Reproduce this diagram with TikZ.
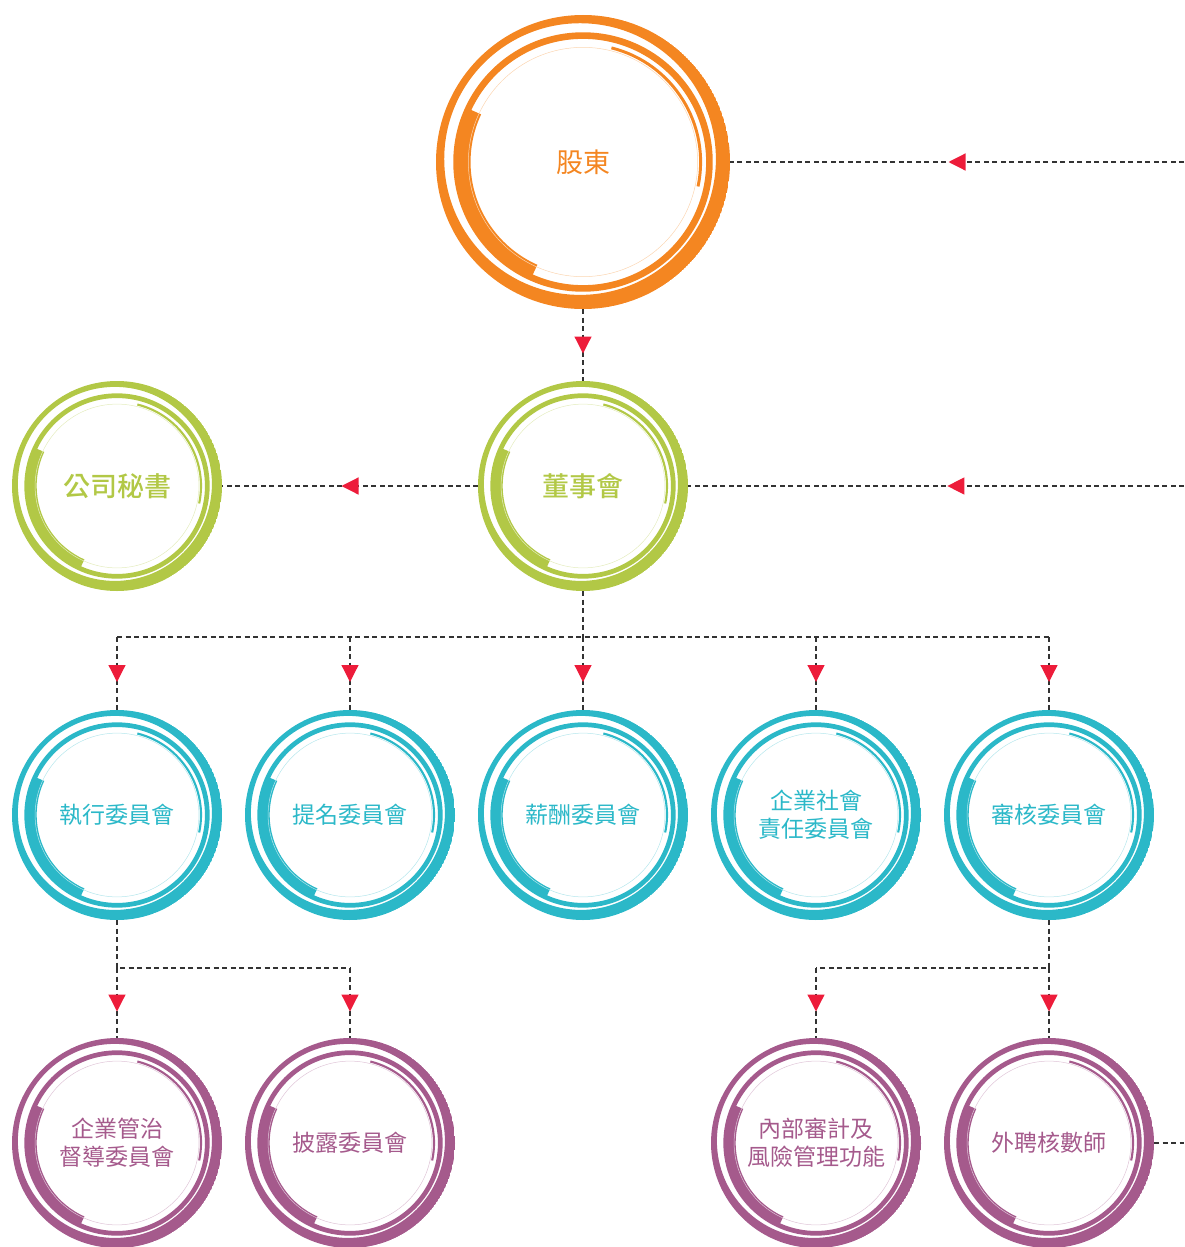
\documentclass[tikz,border=0pt]{standalone}
\usepackage{fontspec}
\usetikzlibrary{positioning, arrows.meta, decorations.markings}
\newfontfamily\cjk{Noto Sans CJK TC}
\newfontfamily\cjkmed{Noto Sans CJK TC Medium}
\definecolor{shareorange}{RGB}{244,134,33}
\definecolor{boardgreen}{RGB}{178,200,70}
\definecolor{cmteal}{RGB}{43,184,200}
\definecolor{subpurple}{RGB}{165,90,140}
\definecolor{tipred}{RGB}{237,28,58}
\definecolor{linegray}{RGB}{51,51,51}

% rings drawn inside each circle node: #1 colour, #2 radius
\newcommand{\ringdeco}[2]{%
  \path (path picture bounding box.center) coordinate (rc);
  \fill[#1, even odd rule] (rc) circle ({#2}) ([shift={({-0.02*#2},{0.02*#2})}]rc) circle ({0.924*#2});
  \draw[#1, line width={0.045*#2}] (rc) circle ({0.86*#2});
  \draw[#1, line width={0.08*#2}] (rc) ++(155:{0.805*#2}) arc[start angle=155, end angle=246, radius={0.805*#2}];
  \draw[#1, line width={0.02*#2}] (rc) ++(76:{0.8*#2}) arc[start angle=76, end angle=-12, radius={0.8*#2}];
  \draw[#1!35, line width=0.5pt] (rc) circle ({0.78*#2});
}

\begin{document}
\begin{tikzpicture}[
    x=1pt, y=1pt,
    ring/.style n args={2}{circle, inner sep=0pt, outer sep=0pt, minimum size={2*#2}, text=#1, align=center, path picture={\ringdeco{#1}{#2}}},
    bigtext/.style={font=\cjk\fontsize{27}{32}\selectfont},
    boldtext/.style={font=\cjkmed\fontsize{27}{32}\selectfont},
    cmtext/.style={font=\cjk\fontsize{23}{28}\selectfont},
    line/.style={draw=linegray, line width=1.2pt, dash pattern=on 5pt off 3.5pt},
    flow/.style={line, postaction={decorate}, decoration={markings, mark=at position #1 with {\arrow[tipred, xshift=8.5pt]{Triangle[length=17pt, width=17pt]}}}},
    flow/.default=0.5
]
\useasboundingbox (0,0) rectangle (1184,-1247);

% ========== SHAREHOLDERS AND BOARD ==========
\node[ring={shareorange}{147}, bigtext] (share) at (583,-162) {股東};
\node[ring={boardgreen}{105}, boldtext, below=72pt of share] (board) {董事會};
\node[ring={boardgreen}{105}, boldtext, left=256pt of board] (secr) {公司秘書};

% ========== COMMITTEES ==========
\node[ring={cmteal}{105}, cmtext, below=119pt of board] (rem) {薪酬委員會};
\node[ring={cmteal}{105}, cmtext, left=23pt of rem] (nom) {提名委員會};
\node[ring={cmteal}{105}, cmtext, left=23pt of nom] (exe) {執行委員會};
\node[ring={cmteal}{105}, cmtext, right=23pt of rem] (csr) {企業社會\\責任委員會};
\node[ring={cmteal}{105}, cmtext, right=23pt of csr] (aud) {審核委員會};

% ========== SUB-COMMITTEES ==========
\node[ring={subpurple}{105}, cmtext, below=118pt of exe] (cg) {企業管治\\督導委員會};
\node[ring={subpurple}{105}, cmtext, below=118pt of nom] (disc) {披露委員會};
\node[ring={subpurple}{105}, cmtext, below=118pt of csr] (risk) {內部審計及\\風險管理功能};
\node[ring={subpurple}{105}, cmtext, below=118pt of aud] (ext) {外聘核數師};

% ========== CONNECTORS ==========
\coordinate (inA) at (1184,-162);
\coordinate (inB) at (1184,-486);
\coordinate (outC) at (1184,-1143);
\coordinate[below=46pt of board] (busA);
\coordinate[below=48pt of exe] (busB);
\coordinate[below=48pt of aud] (busC);

\draw[flow] (inA) -- (share.east);
\draw[flow] (share.south) -- (board.north);
\draw[flow=0.46] (inB) -- (board.east);
\draw[flow] (board.west) -- (secr.east);

\draw[line] (board.south) -- (busA);
\draw[line] (busA -| exe) -- (busA -| aud);
\foreach \n in {exe, nom, rem, csr, aud}
    \draw[flow] (busA -| \n) -- (\n.north);

\draw[line] (exe.south) -- (busB) -- (busB -| disc);
\foreach \n in {cg, disc}
    \draw[flow] (busB -| \n) -- (\n.north);

\draw[line] (aud.south) -- (busC) -- (busC -| risk);
\foreach \n in {risk, ext}
    \draw[flow] (busC -| \n) -- (\n.north);

\draw[line] (ext.east) -- (outC);

\end{tikzpicture}
\end{document}
